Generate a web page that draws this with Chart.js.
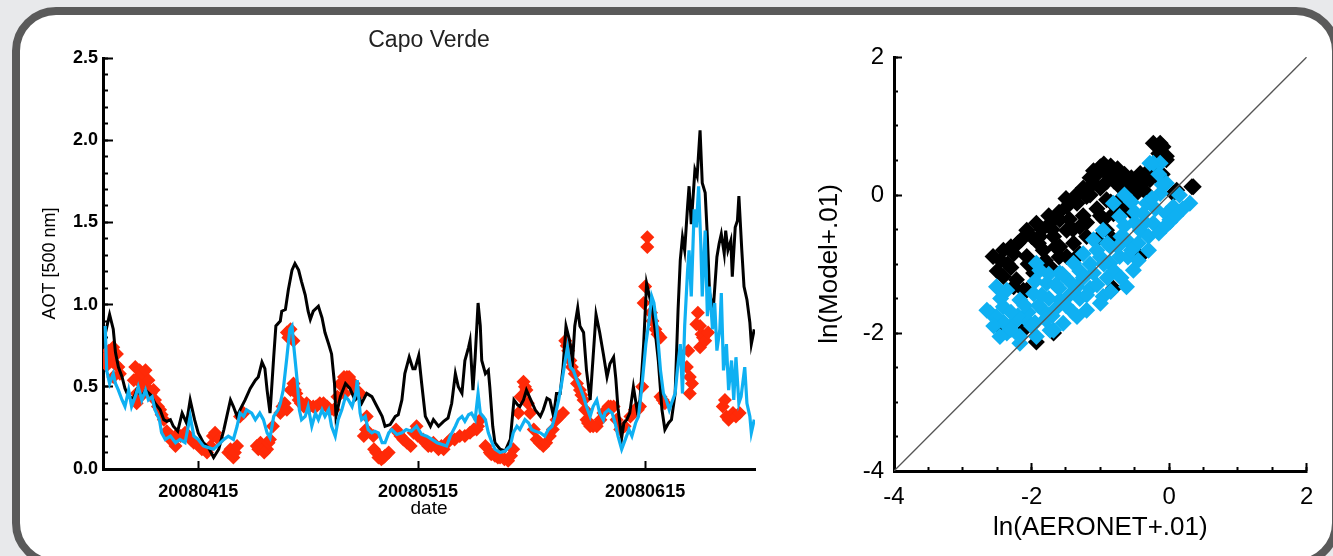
<!DOCTYPE html>
<html>
<head>
<meta charset="utf-8">
<script src="https://cdn.jsdelivr.net/npm/chart.js@4.4.0/dist/chart.umd.min.js"></script>
<style>
  html, body { margin: 0; padding: 0; }
  body { width: 1333px; height: 556px; background: #e8e9eb; position: relative; overflow: hidden; }
  #painel { position: absolute; left: 12px; top: 7px; width: 1328px; height: 560px; border: 8px solid #5a5a5a; border-radius: 44px; background: #fff; box-sizing: border-box; }
  #serie { position: absolute; left: 0; top: 0; }
  #dispersao { position: absolute; left: 800px; top: 0; }
</style>
</head>
<body>
<div id="painel"></div>
<canvas id="serie" width="800" height="556"></canvas>
<canvas id="dispersao" width="533" height="556"></canvas>
<script>
// eixo x em dias desde 1 de abril de 2008
const diasTick = [14, 44, 75];
const rotulosTick = ['20080415', '20080515', '20080615'];

// modelo 1 (preto)
const diasPreto = [1.3,1.9,2.4,2.7,3.1,3.6,4.0,4.5,5.2,5.6,6.3,6.8,7.5,8.1,8.8,9.3,9.7,10.2,10.6,11.2,11.8,12.4,12.9,13.5,14.0,14.7,15.4,16.1,16.8,17.5,17.9,18.4,18.8,19.3,19.7,20.4,21.1,21.8,22.2,22.7,23.1,23.4,23.8,24.3,24.6,25.2,25.4,25.9,26.3,26.8,27.2,27.7,28.1,28.6,29.0,29.3,29.7,30.4,30.9,31.3,31.8,32.2,32.6,32.8,33.4,34.1,34.7,35.4,35.9,36.3,37.0,37.7,38.4,39.1,39.5,40.2,40.9,41.3,41.8,42.2,42.8,43.3,43.6,44.1,44.5,45.0,45.7,46.1,46.8,47.5,48.1,48.6,49.1,49.5,50.0,50.4,50.9,51.1,51.5,51.8,52.2,52.5,52.7,53.2,53.6,53.8,54.2,54.5,55.2,55.9,56.6,57.1,57.6,57.9,58.4,58.8,59.3,60.0,60.7,61.1,61.6,62.0,62.5,62.9,63.4,63.8,64.2,64.7,65.1,65.4,65.8,66.1,66.6,67.0,67.5,67.9,68.3,68.8,69.3,69.8,70.2,70.7,71.0,71.3,71.8,72.1,72.5,72.9,73.4,73.9,74.3,74.8,75.2,75.6,75.9,76.3,76.8,77.3,77.7,78.2,78.6,79.1,79.5,79.8,80.1,80.4,80.8,81.0,81.3,81.8,82.1,82.5,82.8,83.2,83.5,83.8,84.3,84.8,85.1,85.4,85.8,86.0,86.3,86.7,86.9,87.3,87.6,87.8,88.2,88.5,88.9,89.3,89.5,89.9];
const aotPreto = [0.82,0.94,0.85,0.71,0.62,0.56,0.49,0.44,0.43,0.48,0.44,0.48,0.45,0.40,0.36,0.30,0.29,0.30,0.26,0.23,0.34,0.28,0.42,0.30,0.22,0.16,0.13,0.07,0.12,0.24,0.32,0.42,0.38,0.32,0.36,0.42,0.49,0.54,0.56,0.65,0.61,0.48,0.34,0.68,0.87,0.90,0.96,0.97,1.09,1.21,1.25,1.21,1.14,1.06,0.96,0.91,0.96,0.99,0.92,0.83,0.76,0.70,0.52,0.32,0.44,0.52,0.49,0.42,0.44,0.40,0.46,0.44,0.38,0.32,0.26,0.27,0.32,0.33,0.42,0.58,0.68,0.61,0.61,0.69,0.52,0.32,0.26,0.30,0.26,0.29,0.31,0.40,0.58,0.50,0.46,0.66,0.74,0.78,0.48,0.68,1.01,0.87,0.66,0.58,0.60,0.50,0.26,0.16,0.12,0.11,0.18,0.42,0.39,0.38,0.42,0.48,0.43,0.36,0.32,0.36,0.43,0.42,0.32,0.46,0.46,0.62,0.87,0.78,0.66,0.87,0.98,0.87,0.83,0.60,0.42,0.68,0.94,0.83,0.70,0.56,0.64,0.68,0.55,0.37,0.19,0.28,0.30,0.34,0.50,0.36,0.42,0.76,1.13,1.05,0.99,0.87,0.66,0.36,0.24,0.28,0.30,0.46,0.97,1.27,1.41,1.33,1.60,1.72,1.49,1.82,1.78,2.06,1.74,1.68,1.41,1.07,0.97,1.29,1.37,1.43,1.31,1.45,1.33,1.39,1.17,1.47,1.51,1.66,1.33,1.11,1.03,0.89,0.76,0.85];

// modelo 2 (azul)
const diasAzul = [1.3,1.5,1.9,2.4,2.7,3.1,3.6,4.0,4.5,4.9,5.4,5.8,6.3,6.8,7.2,7.7,8.1,8.7,9.0,9.5,10.2,10.9,11.5,12.2,12.9,13.4,14.0,14.7,15.4,16.1,16.8,17.5,18.1,18.8,19.3,19.7,20.2,20.6,21.3,21.8,22.4,22.9,23.4,23.8,24.3,24.9,25.2,25.6,26.1,26.5,26.8,27.1,27.5,27.8,28.1,28.6,29.0,29.5,30.0,30.4,30.9,31.3,31.8,32.2,32.7,33.1,33.6,34.1,34.5,35.0,35.5,35.7,36.1,36.3,36.8,37.2,37.7,38.1,38.6,39.1,39.5,40.0,40.4,41.1,41.8,42.4,43.1,43.8,44.5,45.2,45.9,46.6,47.2,47.9,48.4,49.1,49.5,50.0,50.4,50.9,51.3,51.8,52.2,52.5,52.9,53.2,53.6,54.1,54.5,55.2,55.9,56.6,57.0,57.5,57.9,58.6,59.1,59.5,60.0,60.7,61.3,61.8,62.3,62.7,63.2,63.6,64.1,64.4,64.8,65.2,65.7,66.1,66.6,67.0,67.5,67.9,68.4,68.8,69.3,69.5,70.0,70.5,70.9,71.3,71.8,72.3,72.8,73.2,73.7,74.1,74.6,75.1,75.5,75.9,76.2,76.6,77.1,77.5,77.9,78.3,78.6,79.1,79.4,79.8,80.1,80.4,80.8,81.0,81.3,81.7,82.0,82.3,82.6,82.8,83.2,83.5,83.8,84.2,84.5,84.8,85.2,85.4,85.7,86.1,86.4,86.8,87.1,87.4,87.8,88.1,88.6,88.9,89.3,89.5,89.9];
const aotAzul = [0.87,0.60,0.52,0.58,0.52,0.48,0.42,0.38,0.48,0.38,0.44,0.50,0.42,0.48,0.42,0.44,0.36,0.30,0.22,0.18,0.20,0.16,0.18,0.16,0.32,0.20,0.18,0.14,0.13,0.12,0.15,0.18,0.20,0.18,0.26,0.34,0.32,0.36,0.34,0.30,0.34,0.30,0.22,0.19,0.32,0.36,0.40,0.48,0.68,0.85,0.87,0.72,0.54,0.36,0.30,0.32,0.38,0.26,0.34,0.30,0.36,0.32,0.36,0.26,0.20,0.30,0.36,0.44,0.42,0.38,0.46,0.54,0.34,0.30,0.32,0.24,0.22,0.23,0.22,0.16,0.16,0.22,0.24,0.21,0.22,0.24,0.23,0.26,0.21,0.20,0.18,0.16,0.15,0.14,0.20,0.26,0.30,0.32,0.29,0.33,0.34,0.30,0.46,0.34,0.32,0.30,0.22,0.16,0.12,0.10,0.11,0.14,0.22,0.26,0.24,0.30,0.28,0.24,0.23,0.22,0.20,0.24,0.26,0.32,0.42,0.52,0.66,0.74,0.62,0.60,0.54,0.50,0.44,0.38,0.32,0.38,0.42,0.34,0.30,0.34,0.36,0.34,0.28,0.20,0.12,0.18,0.24,0.20,0.28,0.32,0.52,0.76,0.89,1.05,1.01,0.87,0.60,0.46,0.42,0.36,0.40,0.46,0.60,0.76,0.46,0.87,1.21,1.33,1.05,1.58,1.47,1.72,1.37,1.05,1.45,0.93,1.11,0.85,1.01,0.72,0.85,1.07,0.60,0.76,0.48,0.66,0.42,0.68,0.40,0.44,0.62,0.40,0.32,0.22,0.30];

// AERONET (vermelho)
const diasAeronet = [1.3,1.5,1.8,2.0,2.4,2.4,2.6,2.9,3.1,3.3,5.2,5.4,5.6,5.6,5.8,6.0,6.1,6.2,6.4,6.5,6.8,6.9,7.2,7.5,7.9,8.1,8.5,8.8,9.0,9.3,9.7,10.0,10.4,10.9,11.1,11.6,12.2,12.7,13.0,13.4,13.9,14.5,15.2,15.7,16.0,16.3,16.8,18.1,18.4,18.8,19.0,19.3,19.7,20.2,22.0,22.2,22.5,22.8,23.0,23.4,23.6,23.8,24.2,25.2,25.5,25.8,26.1,26.1,26.3,26.6,26.6,27.0,27.0,27.2,27.4,27.7,28.0,28.4,28.8,29.2,29.7,30.1,30.6,31.1,31.6,32.0,32.5,33.0,33.4,33.7,33.9,34.0,34.3,34.6,34.8,35.2,35.6,36.1,36.6,36.9,37.0,37.9,38.0,38.3,38.6,39.0,39.3,39.5,40.0,41.0,41.3,41.6,42.0,42.5,43.0,43.4,43.8,44.0,44.7,45.0,45.4,45.8,46.1,46.8,47.2,47.5,48.0,48.4,49.0,49.7,50.4,51.1,51.6,52.0,52.2,52.5,53.2,53.8,54.0,54.5,54.9,55.2,55.8,56.3,56.7,57.0,57.7,58.0,58.4,58.6,58.8,59.0,59.3,59.8,60.2,60.6,61.1,61.5,62.0,62.4,62.9,63.3,63.8,64.1,64.3,64.5,64.8,65.0,65.4,65.7,66.1,66.3,66.6,66.8,67.0,67.2,67.5,67.9,68.4,68.9,69.3,69.7,70.0,70.3,70.7,71.1,71.6,72.2,73.0,73.6,74.0,74.3,74.6,74.8,75.0,75.3,75.3,75.8,76.0,76.4,76.7,77.1,77.1,77.4,77.7,80.7,80.9,81.1,81.1,81.4,82.0,82.2,82.5,82.5,82.7,82.9,83.2,83.6,85.6,85.9,86.1,86.4,86.7,87.0,87.4,87.9];
const aotAeronet = [0.68,0.63,0.72,0.66,0.74,0.56,0.64,0.70,0.62,0.58,0.54,0.62,0.46,0.40,0.56,0.60,0.44,0.52,0.58,0.48,0.60,0.50,0.54,0.46,0.48,0.42,0.38,0.36,0.33,0.30,0.23,0.20,0.17,0.14,0.21,0.20,0.22,0.20,0.18,0.16,0.15,0.12,0.10,0.14,0.20,0.22,0.18,0.10,0.12,0.07,0.10,0.14,0.32,0.34,0.14,0.12,0.16,0.12,0.10,0.12,0.16,0.18,0.26,0.34,0.38,0.40,0.36,0.83,0.80,0.48,0.85,0.78,0.52,0.48,0.46,0.42,0.40,0.38,0.40,0.38,0.38,0.38,0.40,0.40,0.38,0.36,0.36,0.44,0.52,0.50,0.56,0.46,0.56,0.56,0.52,0.52,0.48,0.46,0.20,0.24,0.32,0.20,0.12,0.10,0.07,0.06,0.07,0.08,0.10,0.24,0.22,0.20,0.18,0.16,0.14,0.22,0.26,0.20,0.18,0.16,0.14,0.14,0.16,0.12,0.14,0.12,0.16,0.18,0.18,0.20,0.20,0.22,0.24,0.24,0.26,0.30,0.14,0.10,0.09,0.08,0.07,0.07,0.06,0.05,0.08,0.12,0.34,0.44,0.53,0.50,0.48,0.40,0.34,0.24,0.18,0.16,0.14,0.16,0.20,0.24,0.30,0.32,0.34,0.78,0.75,0.72,0.66,0.62,0.58,0.52,0.48,0.45,0.42,0.36,0.30,0.28,0.26,0.26,0.26,0.30,0.34,0.36,0.38,0.38,0.38,0.30,0.24,0.26,0.32,0.36,0.36,0.38,0.50,1.01,1.11,1.35,1.41,0.95,0.90,0.85,0.82,0.80,0.44,0.42,0.40,0.62,0.72,0.56,0.46,0.52,0.88,0.95,0.87,0.74,0.82,0.80,0.78,0.83,0.38,0.42,0.32,0.30,0.32,0.34,0.32,0.34];

// dispersao: ln(AERONET+.01) x ln(Modelo+.01)
const lnAeronetPreto = [-0.23,-0.09,-0.04,-0.13,-0.04,0.35,0.11,0.33,0.06,-1.0,-0.72,-0.52,-1.10,-1.20,-1.34,-1.49,-1.59,-1.73,-1.93,-2.07,-1.88,-1.68,-1.49,-1.30,-2.41,-2.56,-2.26,-2.07,-1.83,-1.59,-1.39,-2.41,-2.22,-2.12,-1.97,-1.73,-1.49,-1.30,-1.05,-0.91,-0.81,-0.91,-0.62,-0.42,-0.33,-0.18,-0.52,-0.42,-0.81,-2.26,-2.07,-1.93,-1.68,-0.81,-2.12,-2.41,-0.28,-0.9,-0.8,-1.0,-0.7,-1.15,-1.05,-1.25,-1.45,-1.7,-1.9,-2.2,-2.35,-1.6,-1.2,-0.95,-0.6,-0.5,-0.65,-2.45,-2.3,-2.15,-2.0,-1.85,-1.75,-1.6,-1.5,-1.35,-1.25,-1.15,-1.05,-0.95,-0.85,-0.75,-0.65,-0.55,-0.45,-0.35,-0.3,-0.15,-0.1,-2.3,-2.05,-1.8,-1.65,-1.4,-1.2,-1.0,-0.85,-0.7,-2.5,-1.1,-0.9];
const lnModeloPreto = [0.75,0.70,0.51,0.75,0.56,0.12,0.07,0.12,0.02,0.41,0.31,0.07,0.17,-0.02,-0.12,-0.17,-0.36,-0.41,-0.41,-0.51,-0.60,-0.60,-0.51,-0.46,-0.80,-0.89,-0.85,-0.89,-0.80,-0.75,-0.70,-1.18,-1.23,-1.38,-1.13,-1.04,-0.89,-0.85,-0.65,-0.51,-0.27,-0.07,-0.07,0.31,0.22,0.27,-0.27,-0.89,-0.65,-1.33,-1.38,-2.13,-2.0,-1.35,-1.96,-1.96,0.22,0.3,0.2,0.1,0.1,0.0,-0.2,-0.3,-0.35,-0.5,-0.7,-0.7,-1.0,-0.9,-0.6,-0.35,0.2,0.0,-0.2,-0.95,-0.75,-0.65,-0.6,-0.5,-0.3,-0.25,-0.05,0.0,0.1,0.25,0.3,0.45,0.42,0.38,0.3,0.25,0.15,0.05,0.35,0.6,0.3,-1.05,-1.0,-0.95,-0.75,-0.5,-0.4,-0.3,-0.1,-0.05,-1.1,0.35,0.2];
const lnAeronetAzul = [-0.23,-0.13,-0.28,-0.04,0.30,0.06,0.01,-0.13,-0.33,-0.81,-0.72,-0.96,-1.10,-1.25,-1.39,-1.59,-1.78,-1.97,-2.17,-2.41,-2.60,-2.51,-2.36,-1.93,-1.88,-0.72,-0.52,-0.62,-0.96,-1.0,-1.20,-1.34,-1.54,-1.73,-1.93,-2.17,-2.36,-2.51,-1.34,-1.10,-0.86,-0.62,-0.42,-0.23,-0.04,-0.38,-1.59,-1.83,-2.07,-2.26,-2.65,-2.46,-2.17,-1.68,0.01,-0.5,-0.7,-0.85,-1.0,-1.15,-1.3,-1.45,-1.6,-1.75,-1.9,-2.05,-2.2,-2.4,-1.5,-1.3,-1.15,-0.9,-0.8,-0.6,-0.45,-0.3,-0.2,-0.55,-0.65,-1.7,-1.95,-2.55,-2.3,-2.3,-2.1,-2.0,-1.85,-1.8,-1.65,-1.65,-1.55,-1.45,-1.4,-1.25,-1.2,-1.05,-1.05,-0.95,-0.9,-0.85,-0.75,-0.7,-0.65,-0.55,-0.5,-0.45,-0.35,-0.3,-0.25,-0.15,-0.1,-0.05,0.1,0.15,0.2,-0.15,-2.45,-1.95,-1.75];
const lnModeloAzul = [0.46,0.46,0.46,0.17,-0.12,-0.17,-0.36,0.02,-0.12,-0.12,-0.31,-0.51,-0.65,-0.85,-0.99,-1.13,-1.28,-1.43,-1.52,-1.62,-1.71,-1.33,-1.38,-0.99,-1.09,-0.89,-1.09,-1.33,-1.47,-1.57,-1.67,-1.76,-1.86,-1.96,-2.05,-2.05,-2.0,-1.76,-1.33,-1.13,-0.99,-0.65,-0.51,-0.41,-0.27,-0.27,-1.52,-1.67,-1.81,-1.86,-1.67,-2.05,-2.15,-1.96,-0.39,-0.4,-0.6,-0.75,-0.9,-1.0,-1.1,-1.25,-1.35,-1.5,-1.6,-1.7,-1.75,-1.85,-1.6,-1.5,-1.35,-1.2,-1.1,-0.9,-0.7,-0.6,-0.2,-0.1,0.0,-1.75,-1.85,-1.9,-1.7,-1.95,-1.6,-1.9,-1.45,-1.8,-1.3,-1.65,-1.15,-1.45,-1.7,-1.2,-1.45,-1.3,-0.8,-1.0,-0.7,-1.4,-0.75,-1.2,-0.45,-0.8,-0.25,-0.95,-0.4,-0.8,-0.05,-0.55,0.15,-0.45,-0.3,0.0,-0.2,0.3,-1.5,-1.25,-1.15];
const linhaUm = [-4, 2];

const pontos = (xs, ys) => xs.map((x, i) => ({ x: x, y: ys[i] }));

Chart.defaults.font.family = "'Liberation Sans', Arial, sans-serif";
Chart.defaults.color = '#000';

// eixo so com marcas menores (sem rotulos)
function eixoMenor(pos, min, max, passo, tam) {
  return {
    type: 'linear', position: pos, min: min, max: max, weight: 0,
    afterFit: (s) => { if (pos === 'left') s.width = 0; else s.height = 0; },
    ticks: { display: false, stepSize: passo, maxTicksLimit: 100, font: { size: 4 } },
    grid: { drawOnChartArea: false, tickLength: -tam, tickWidth: 2, tickColor: '#000' },
    border: { display: false }
  };
}

new Chart(document.getElementById('serie'), {
  type: 'scatter',
  data: {
    datasets: [
      { label: 'modelo 2', data: pontos(diasAzul, aotAzul), showLine: true, borderColor: '#0fb0f2', borderWidth: 3.2, pointRadius: 0, tension: 0 },
      { label: 'modelo 1', data: pontos(diasPreto, aotPreto), showLine: true, borderColor: '#000', borderWidth: 3, pointRadius: 0, tension: 0 },
      { label: 'AERONET', data: pontos(diasAeronet, aotAeronet), pointStyle: 'rectRot', pointRadius: 7, backgroundColor: '#ff2a08', borderColor: '#ff2a08', borderWidth: 0 }
    ]
  },
  options: {
    responsive: false,
    animation: false,
    events: [],
    layout: { padding: { left: 39.2, top: 27.2, right: 45, bottom: 36.3 } },
    plugins: {
      legend: { display: false },
      tooltip: { enabled: false },
      title: { display: true, text: 'Capo Verde', fullSize: false, color: '#222', font: { size: 23, weight: 'normal' }, padding: { top: 0, bottom: 3.2 } }
    },
    scales: {
      x: {
        type: 'linear', position: 'bottom', min: 1, max: 90, weight: 10,
        afterBuildTicks: (s) => { s.ticks = diasTick.map(v => ({ value: v })); },
        afterFit: (s) => { s.height = 50.7; },
        ticks: { padding: 20, autoSkip: false, maxRotation: 0, font: { size: 18, weight: 'bold' }, callback: (v) => rotulosTick[diasTick.indexOf(v)] },
        grid: { drawOnChartArea: false, tickLength: -8, tickWidth: 2, tickColor: '#000' },
        border: { color: '#000', width: 3 },
        title: { display: true, text: 'date', padding: 0, font: { size: 19 } }
      },
      y: {
        type: 'linear', position: 'left', min: 0, max: 2.5, weight: 10,
        afterFit: (s) => { s.width = 63.8; },
        ticks: { stepSize: 0.5, padding: 15, font: { size: 18, weight: 'bold' }, callback: (v) => v.toFixed(1) },
        grid: { drawOnChartArea: false, tickLength: -10, tickWidth: 2, tickColor: '#000' },
        border: { color: '#000', width: 3 },
        title: { display: true, text: 'AOT [500 nm]', padding: 0, font: { size: 18 } }
      },
      yMenor: eixoMenor('left', 0, 2.5, 0.1, 5)
    }
  }
});

new Chart(document.getElementById('dispersao'), {
  type: 'scatter',
  data: {
    datasets: [
      { label: '1:1', data: pontos(linhaUm, linhaUm), showLine: true, borderColor: '#555', borderWidth: 1.3, pointRadius: 0 },
      { label: 'modelo 2', data: pontos(lnAeronetAzul, lnModeloAzul), pointStyle: 'rectRot', pointRadius: 8.5, backgroundColor: '#0fb0f2', borderWidth: 0 },
      { label: 'modelo 1', data: pontos(lnAeronetPreto, lnModeloPreto), pointStyle: 'rectRot', pointRadius: 8.5, backgroundColor: '#000', borderWidth: 0 }
    ]
  },
  options: {
    responsive: false,
    animation: false,
    events: [],
    layout: { padding: { left: 14.4, top: 57, right: 26, bottom: 12.4 } },
    plugins: { legend: { display: false }, tooltip: { enabled: false } },
    scales: {
      x: {
        type: 'linear', position: 'bottom', min: -4, max: 2, weight: 10,
        afterFit: (s) => { s.height = 72.6; },
        ticks: { stepSize: 2, padding: 19.6, maxRotation: 0, font: { size: 24 }, callback: (v) => String(v) },
        grid: { drawOnChartArea: false, tickLength: -8, tickWidth: 2, tickColor: '#000' },
        border: { color: '#000', width: 3 },
        title: { display: true, text: 'ln(AERONET+.01)', padding: 0, font: { size: 26 } }
      },
      xMenor: eixoMenor('bottom', -4, 2, 0.5, 4),
      y: {
        type: 'linear', position: 'left', min: -4, max: 2, weight: 10,
        afterFit: (s) => { s.width = 79.6; },
        ticks: { stepSize: 2, padding: 18, font: { size: 24 }, callback: (v) => String(v) },
        grid: { drawOnChartArea: false, tickLength: -8, tickWidth: 2, tickColor: '#000' },
        border: { color: '#000', width: 3 },
        title: { display: true, text: 'ln(Model+.01)', padding: 0, font: { size: 26 } }
      },
      yMenor: eixoMenor('left', -4, 2, 0.5, 4)
    }
  }
});
</script>
</body>
</html>
